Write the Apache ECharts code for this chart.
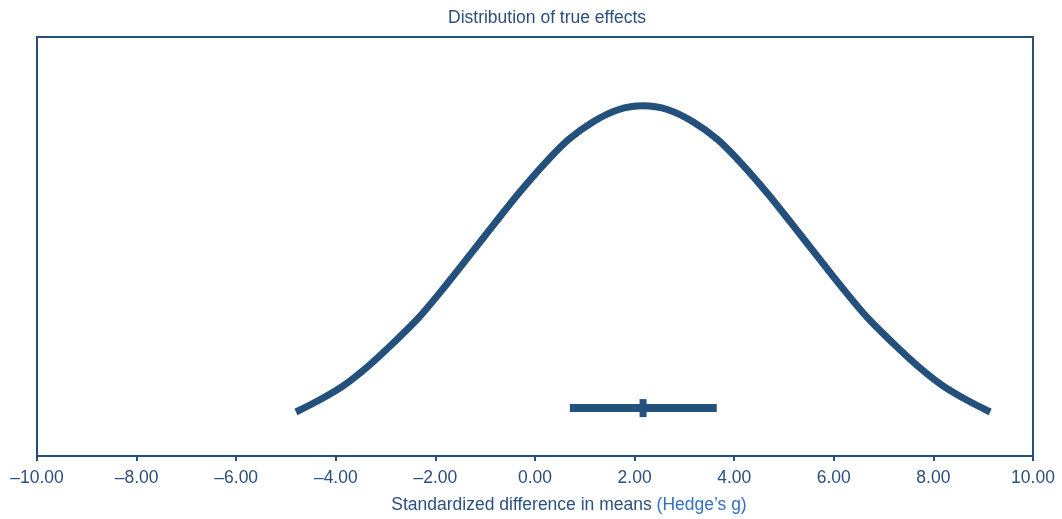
<!DOCTYPE html>
<html>
<head>
<meta charset="utf-8">
<script src="https://cdn.jsdelivr.net/npm/echarts@6/dist/echarts.min.js"></script>
<style>html,body{margin:0;padding:0;background:#fff}#c{width:1062px;height:519px}</style>
</head>
<body>
<div id="c"></div>
<script>
// Curve of the distribution of true effects (x = Hedge's g, y = relative density)
var curveX = [-4.80,-4.33,-3.83,-3.33,-2.83,-2.33,-1.83,-1.33,-0.83,-0.33,0.17,0.67,1.17,1.67,2.17,2.67,3.17,3.67,4.17,4.67,5.17,5.67,6.17,6.67,7.17,7.67,8.17,8.67,9.14];
var curveY = [0.0147,0.0187,0.0237,0.0303,0.0380,0.0463,0.0562,0.0667,0.0773,0.0877,0.0973,0.1057,0.1117,0.1157,0.1170,0.1157,0.1117,0.1057,0.0973,0.0877,0.0773,0.0667,0.0562,0.0463,0.0380,0.0303,0.0237,0.0187,0.0147];
// Confidence interval of the mean effect
var ciLow = 0.70, ciHigh = 3.65, ciMean = 2.17, ciLevel = 0.016;

var col = '#24507c';
var txt = '#2b4f7e';
var font = '"Liberation Sans", Arial, Helvetica, sans-serif';
var fs = 17.5;

var curve = curveX.map(function(x,i){return [x, curveY[i]];});

var chart = echarts.init(document.getElementById('c'));
chart.setOption({
  animation: false,
  title: {
    text: 'Distribution of true effects',
    left: 443, top: 4,
    textStyle: {color: txt, fontSize: fs, fontWeight: 'normal', fontFamily: font}
  },
  grid: {left: 37, right: 29, top: 37, bottom: 62, show: true, borderColor: col, borderWidth: 2, containLabel: false},
  xAxis: {
    type: 'value', min: -10, max: 10, interval: 2,
    axisLine: {show: true, lineStyle: {color: col, width: 2}},
    axisTick: {show: true, inside: false, length: 5, lineStyle: {color: col, width: 2}},
    splitLine: {show: false},
    axisLabel: {
      color: txt, fontSize: fs, fontFamily: font, margin: 13,
      formatter: function(v){ var s = Math.abs(v).toFixed(2); return v < 0 ? '\u2013' + s : s; }
    },
    name: '{a|Standardized difference in means }{b|(Hedge\u2019s g)}',
    nameLocation: 'middle', nameGap: 40,
    nameTextStyle: {
      fontFamily: font, fontSize: fs, padding: [0, 0, 0, 68],
      rich: {
        a: {color: txt, fontSize: fs, fontFamily: font},
        b: {color: '#3470c4', fontSize: fs, fontFamily: font}
      }
    }
  },
  yAxis: {
    type: 'value', min: 0, max: 0.14, show: false, splitLine: {show: false}
  },
  series: [
    {
      type: 'line', data: curve, smooth: 0.3, symbol: 'none',
      lineStyle: {color: col, width: 7, cap: 'butt', join: 'round'}
    },
    {
      type: 'line', data: [[ciLow, ciLevel], [ciHigh, ciLevel]], symbol: 'none',
      lineStyle: {color: col, width: 8, cap: 'butt'}
    },
    {
      type: 'scatter', data: [[ciMean, ciLevel]], symbol: 'rect', symbolSize: [7, 18],
      itemStyle: {color: col, opacity: 1}
    }
  ]
});
</script>
</body>
</html>
